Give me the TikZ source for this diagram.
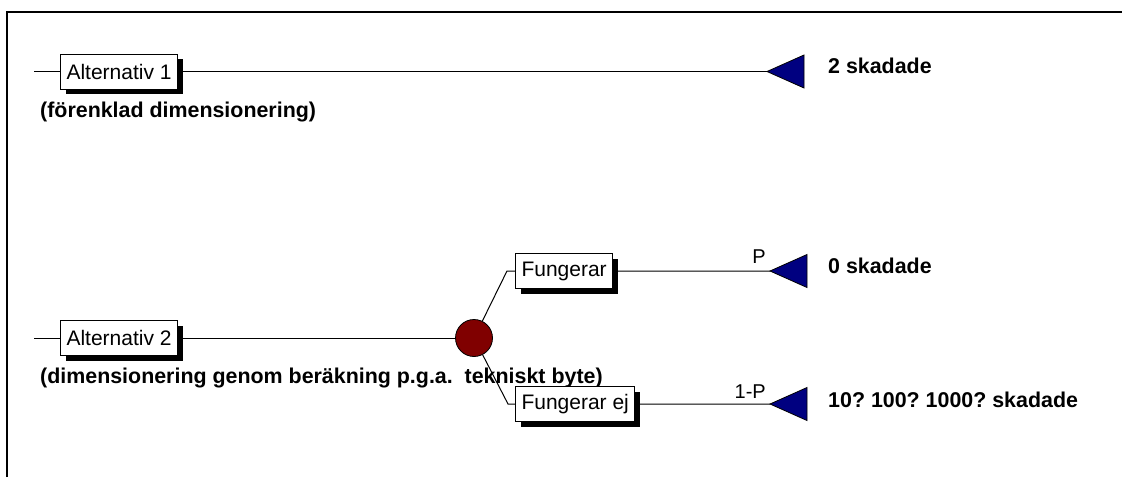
\documentclass[tikz,border=0pt]{standalone}
\usepackage{fontspec}
\setmainfont{Liberation Sans}
\usepackage{tikz}
\usetikzlibrary{shadows}
\definecolor{utfallsfarg}{RGB}{0,0,128}
\definecolor{chansfarg}{RGB}{128,0,0}
\frenchspacing
\tikzstyle{alternativ}=[draw=black,fill=white,line width=1pt,inner xsep=6pt,minimum height=35pt,font=\fontsize{21}{25}\selectfont,drop shadow={shadow xshift=5pt,shadow yshift=-5pt,fill=black,opacity=1}]
\tikzstyle{gren}=[line width=1pt]
\tikzstyle{chansnod}=[circle,draw=black,fill=chansfarg,minimum size=37pt,inner sep=0pt,line width=0.8pt]
\tikzstyle{resultat}=[anchor=base west,inner sep=0pt,font=\fontsize{21.4}{25}\selectfont\bfseries]
\tikzstyle{kommentar}=[anchor=base west,inner sep=0pt,font=\fontsize{21.4}{25}\selectfont\bfseries]
\tikzstyle{sannolikhet}=[anchor=base east,inner sep=0pt,font=\fontsize{20}{24}\selectfont]
\newcommand{\utfall}[1]{\filldraw[fill=utfallsfarg,draw=black,line width=0.8pt] (#1) -- ++(37,-16.5) -- ++(0,33) -- cycle;}

\begin{document}
\begin{tikzpicture}[x=1pt,y=-1pt]
				  \useasboundingbox (0,0) rectangle (1122,477);
				  
				  \draw[line width=1.5pt] (7,477) -- (7,12) -- (1122,12); % ram
				  
				  % alternativ 1
				  \coordinate (s1) at (34,71.5);
				  \coordinate (u1) at (767,71.5);
				  \node[alternativ,anchor=west] (a1) at (60,71.5) {Alternativ 1};
				  \draw[gren] (s1) -- (a1) (a1) -- (u1);
				  \utfall{u1}
				  \node[resultat] (r1) at (828,73) {2 skadade};
				  \node[kommentar] (k1) at (40,117) {(förenklad dimensionering)};
				  
				  % alternativ 2 med chansnod
				  \coordinate (s2) at (34,338);
				  \node[alternativ,anchor=west] (a2) at (60,338) {Alternativ 2};
				  \node[chansnod] (c) at (474,338) {};
				  \node[kommentar] (k2) at (40,383) {(dimensionering genom beräkning p.g.a.\ \ tekniskt byte)};
				  \draw[gren] (s2) -- (a2) (a2) -- (c);
				  
				  \node[alternativ,anchor=west] (f1) at (515,271) {Fungerar};
				  \node[alternativ,anchor=west] (f2) at (515,404) {Fungerar ej};
				  \coordinate (b1) at (507,271);
				  \coordinate (b2) at (508,404);
				  \coordinate (u2) at (770,271);
				  \coordinate (u3) at (770,404);
				  \draw[gren] (c) -- (b1) -- (f1) (f1) -- (u2);
				  \draw[gren] (c) -- (b2) -- (f2) (f2) -- (u3);
				  \utfall{u2}
				  \utfall{u3}
				  
				  \node[sannolikhet] (p1) at (766,263) {P};
				  \node[sannolikhet] (p2) at (766,398) {1-P};
				  \node[resultat] (r2) at (828,273) {0 skadade};
				  \node[resultat] (r3) at (828,407) {10? 100? 1000? skadade};
				
				\end{tikzpicture}
\end{document}
